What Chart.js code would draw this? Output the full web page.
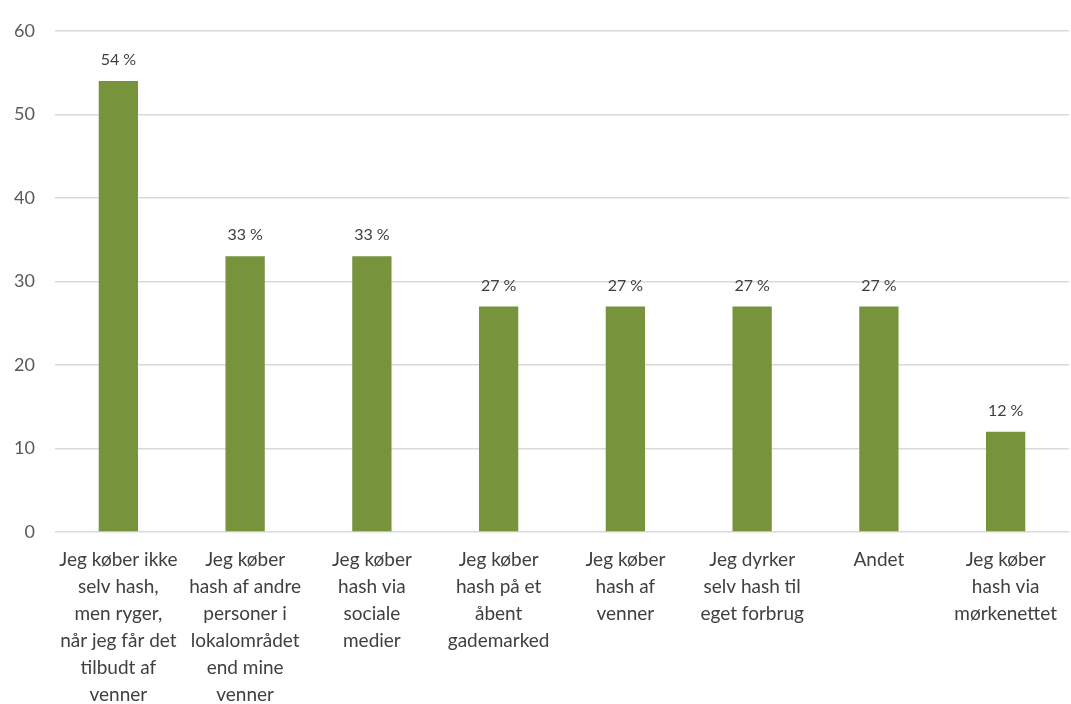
<!DOCTYPE html>
<html>
<head>
<meta charset="utf-8">
<script src="https://cdn.jsdelivr.net/npm/chart.js@4"></script>
<style>
    html, body { margin: 0; padding: 0; background: #fff; }
    #wrap { width: 1071px; height: 704px; }
</style>
</head>
<body>
<div id="wrap"><canvas id="chart"></canvas></div>
<script>
let categories = [
    ['Jeg køber ikke', 'selv hash,', 'men ryger,', 'når jeg får det', 'tilbudt af', 'venner'],
    ['Jeg køber', 'hash af andre', 'personer i', 'lokalområdet', 'end mine', 'venner'],
    ['Jeg køber', 'hash via', 'sociale', 'medier'],
    ['Jeg køber', 'hash på et', 'åbent', 'gademarked'],
    ['Jeg køber', 'hash af', 'venner'],
    ['Jeg dyrker', 'selv hash til', 'eget forbrug'],
    ['Andet'],
    ['Jeg køber', 'hash via', 'mørkenettet']
];
let values = [54, 33, 33, 27, 27, 27, 27, 12];
let yTicks = [0, 10, 20, 30, 40, 50, 60];

let fontFamily = 'Lato, "Open Sans", sans-serif';

// draws "54 %" above each bar
let barLabels = {
    id: 'barLabels',
    afterDatasetsDraw: function (chart) {
        let ctx = chart.ctx;
        let meta = chart.getDatasetMeta(0);
        ctx.save();
        ctx.font = '16px ' + fontFamily;
        ctx.fillStyle = '#404040';
        ctx.textAlign = 'center';
        ctx.textBaseline = 'middle';
        meta.data.forEach(function (bar, i) {
            ctx.fillText(values[i] + ' %', bar.x, bar.y - 21);
        });
        ctx.restore();
    }
};

new Chart(document.getElementById('chart').getContext('2d'), {
    type: 'bar',
    data: {
        labels: categories,
        datasets: [{
            data: values,
            backgroundColor: '#77933C',
            borderWidth: 0,
            barPercentage: 0.31,
            categoryPercentage: 1
        }]
    },
    options: {
        responsive: true,
        maintainAspectRatio: false,
        animation: false,
        layout: { padding: { top: 20, left: 0, right: 0, bottom: 0 } },
        plugins: {
            legend: { display: false },
            tooltip: { enabled: false }
        },
        scales: {
            x: {
                grid: { display: false, drawTicks: false },
                border: { display: false },
                afterFit: function (axis) {
                    axis.height = 172; // labels run off the bottom like the original
                },
                ticks: {
                    autoSkip: false,
                    maxRotation: 0,
                    minRotation: 0,
                    padding: 14,
                    color: '#404040',
                    font: { family: fontFamily, size: 19, lineHeight: 1.42 }
                }
            },
            y: {
                min: 0,
                max: 60,
                afterBuildTicks: function (axis) {
                    axis.ticks = yTicks.map(function (v) { return { value: v }; });
                },
                afterFit: function (axis) {
                    axis.width = 55;
                },
                grid: { color: '#d9d9d9', lineWidth: 1.5, drawTicks: false },
                border: { display: false },
                ticks: {
                    padding: 20,
                    color: '#595959',
                    font: { family: fontFamily, size: 18 }
                }
            }
        }
    },
    plugins: [barLabels]
});
</script>
</body>
</html>
